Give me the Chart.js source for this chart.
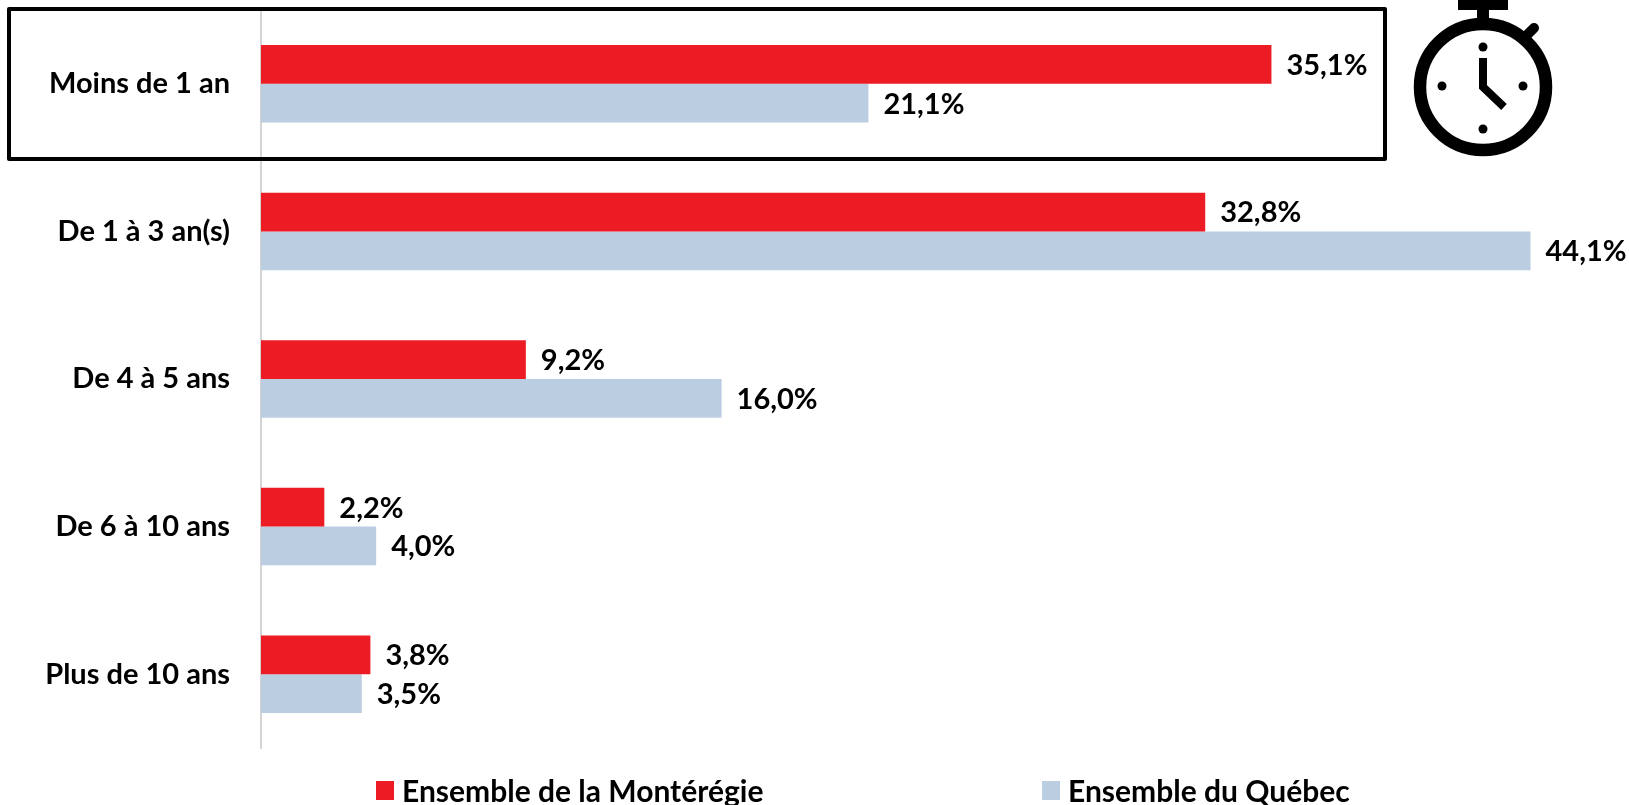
<!DOCTYPE html>
<html lang="fr">
<head>
<meta charset="utf-8">
<title>Ensemble de la Montérégie / Ensemble du Québec</title>
<script src="https://cdn.jsdelivr.net/npm/chart.js@4"></script>
<style>
  html, body { margin: 0; padding: 0; background: #fff; }
  #wrap { position: relative; width: 1629px; height: 805px; overflow: hidden; }
  .leg { position: absolute; top: 772px; height: 36px; line-height: 36px; white-space: nowrap;
         font: 700 30px Lato, sans-serif; color: #000; }
  .leg i { position: absolute; left: 0; top: 9px; width: 18px; height: 19px; }
  .leg span { position: absolute; left: 26px; top: 0; }
</style>
</head>
<body>
<div id="wrap">
  <canvas id="chart" width="1629" height="805"></canvas>
</div>
<script>
// ==================== DATA =====================
const categories = ["Moins de 1 an", "De 1 à 3 an(s)", "De 4 à 5 ans", "De 6 à 10 ans", "Plus de 10 ans"];
const monteregie = [35.1, 32.8, 9.2, 2.2, 3.8];
const quebec = [21.1, 44.1, 16.0, 4.0, 3.5];
const seriesNames = ["Ensemble de la Montérégie", "Ensemble du Québec"];
const seriesColors = ["#ED1C24", "#BBCDE0"];
const legendLeft = [376, 1042];

const labelFont = "700 29px Lato, sans-serif";

// ================ DATA LABELS ==================
const valueLabels = {
  id: "valueLabels",
  afterDatasetsDraw(chart) {
    const ctx = chart.ctx;
    ctx.save();
    ctx.font = labelFont;
    ctx.fillStyle = "#000";
    ctx.textBaseline = "middle";
    chart.data.datasets.forEach((ds, i) => {
      chart.getDatasetMeta(i).data.forEach((bar, j) => {
        const txt = ds.data[j].toFixed(1).replace(".", ",") + "%";
        ctx.fillText(txt, bar.x + 15, bar.y + 1);
      });
    });
    ctx.restore();
  },
};

// ============ BOX AROUND FIRST ROW + STOPWATCH =============
const decorations = {
  id: "decorations",
  afterDraw(chart) {
    const ctx = chart.ctx;
    ctx.save();
    ctx.strokeStyle = "#000";
    ctx.fillStyle = "#000";
    ctx.lineJoin = "round";
    ctx.lineWidth = 4;
    ctx.strokeRect(9, 9, 1376, 150);

    // watch body
    ctx.lineWidth = 12.5;
    ctx.beginPath();
    ctx.arc(1483, 87, 63, 0, Math.PI * 2);
    ctx.stroke();
    // stem and cap
    ctx.fillRect(1477, 8, 12, 14);
    ctx.fillRect(1458, 0, 50, 10);
    // side knob
    ctx.lineWidth = 10;
    ctx.lineCap = "round";
    ctx.beginPath();
    ctx.moveTo(1527, 35);
    ctx.lineTo(1534, 28);
    ctx.stroke();
    // hour dots
    [[1483, 47], [1483, 129], [1442, 86], [1523, 86]].forEach(([x, y]) => {
      ctx.beginPath();
      ctx.arc(x, y, 4.5, 0, Math.PI * 2);
      ctx.fill();
    });
    // hands
    ctx.lineWidth = 8;
    ctx.lineCap = "butt";
    ctx.lineJoin = "miter";
    ctx.beginPath();
    ctx.moveTo(1483, 58);
    ctx.lineTo(1483, 87);
    ctx.lineTo(1504, 107);
    ctx.stroke();
    ctx.restore();
  },
};

// =================== CHART =====================
new Chart(document.getElementById("chart"), {
  type: "bar",
  data: {
    labels: categories,
    datasets: [
      { label: seriesNames[0], data: monteregie, backgroundColor: seriesColors[0] },
      { label: seriesNames[1], data: quebec, backgroundColor: seriesColors[1] },
    ],
  },
  options: {
    indexAxis: "y",
    responsive: false,
    animation: false,
    layout: { padding: { top: 10, bottom: 57, right: 15, left: 0 } },
    datasets: { bar: { barPercentage: 1, categoryPercentage: 0.525 } },
    plugins: { legend: { display: false }, tooltip: { enabled: false } },
    scales: {
      x: { display: false, min: 0, max: 47 },
      y: {
        // tick padding also pads the axis ends, which pushes the plot down
        afterFit(scale) {
          scale.width = 261;
          scale.paddingTop = 0;
          scale.paddingBottom = 0;
        },
        grid: { display: false },
        border: { color: "#D4D4D4", width: 2 },
        ticks: {
          padding: 23,
          color: "#000",
          font: { family: "Lato, sans-serif", size: 29, weight: "700" },
        },
      },
    },
  },
  plugins: [valueLabels, decorations],
});

// =================== LEGEND ====================
seriesNames.forEach((name, i) => {
  const item = document.createElement("div");
  item.className = "leg";
  item.style.left = legendLeft[i] + "px";
  item.innerHTML = `<i style="background:${seriesColors[i]}"></i><span>${name}</span>`;
  document.getElementById("wrap").appendChild(item);
});
</script>
</body>
</html>
